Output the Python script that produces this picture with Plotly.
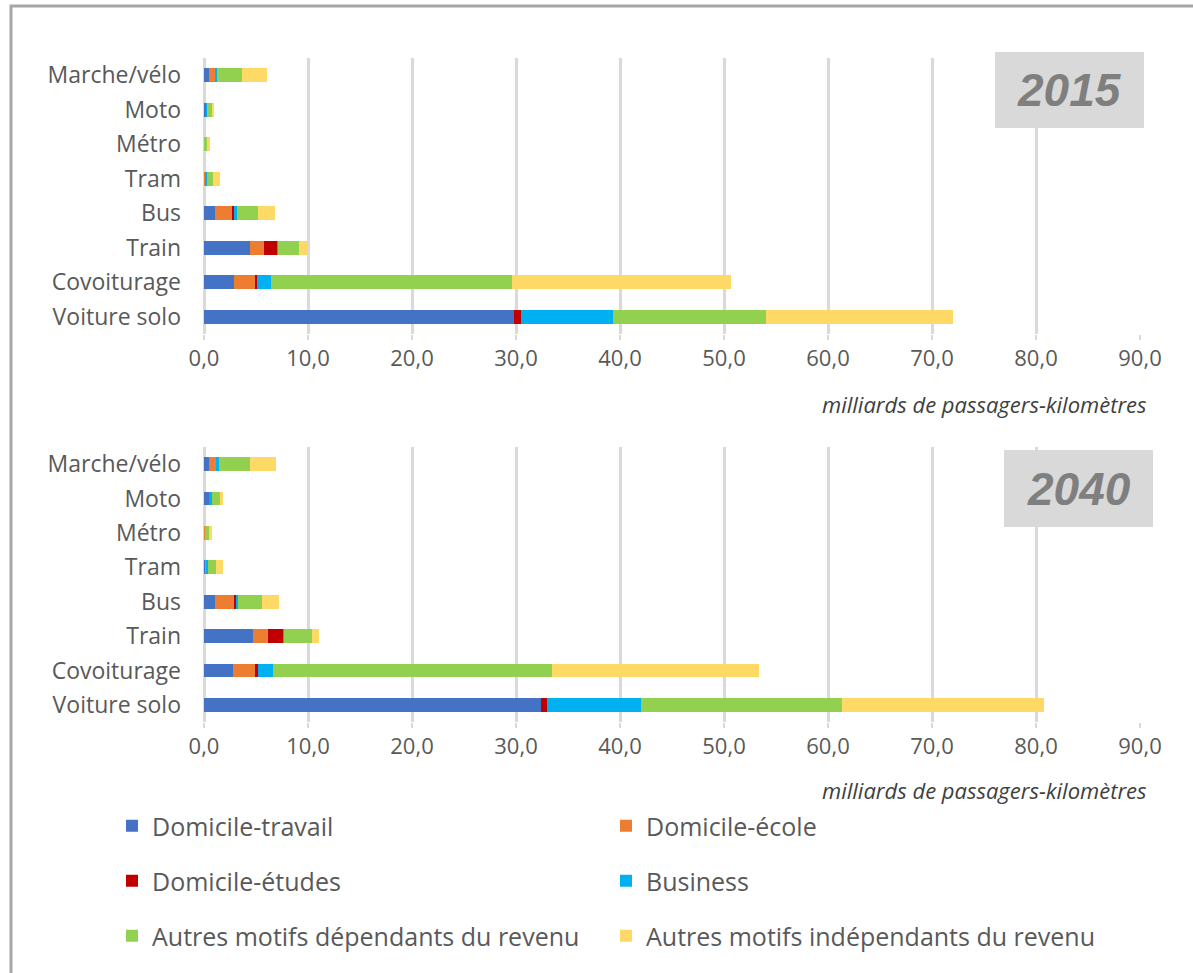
import plotly.graph_objects as go
from plotly.subplots import make_subplots

W, H = 1193, 973

# categories, bottom to top
modes = ["Voiture solo", "Covoiturage", "Train", "Bus", "Tram", "Métro", "Moto", "Marche/vélo"]

motifs = ["Domicile-travail", "Domicile-école", "Domicile-études", "Business",
          "Autres motifs dépendants du revenu", "Autres motifs indépendants du revenu"]
colors = ["#4472C4", "#ED7D31", "#C00000", "#00B0F0", "#92D050", "#FFD966"]

# 2015, milliards de passagers-km, one list per motif (order of modes)
travail_2015 = [29.8, 2.9, 4.39, 1.06, 0.05, 0.0, 0.2, 0.45]
ecole_2015 = [0.0, 2.0, 1.35, 1.66, 0.1, 0.0, 0.0, 0.65]
etudes_2015 = [0.7, 0.2, 1.36, 0.23, 0.0, 0.0, 0.0, 0.0]
business_2015 = [8.8, 1.3, 0.05, 0.19, 0.1, 0.0, 0.1, 0.15]
dep_2015 = [14.7, 23.2, 1.95, 2.02, 0.65, 0.3, 0.5, 2.45]
indep_2015 = [18.0, 21.1, 0.9, 1.64, 0.6, 0.3, 0.15, 2.4]

# 2040
travail_2040 = [32.4, 2.8, 4.71, 1.06, 0.12, 0.0, 0.48, 0.45]
ecole_2040 = [0.0, 2.1, 1.49, 1.79, 0.13, 0.13, 0.0, 0.74]
etudes_2040 = [0.6, 0.3, 1.4, 0.25, 0.0, 0.0, 0.0, 0.0]
business_2040 = [9.0, 1.4, 0.05, 0.2, 0.13, 0.0, 0.29, 0.21]
dep_2040 = [19.3, 26.9, 2.7, 2.3, 0.82, 0.32, 0.73, 3.0]
indep_2040 = [19.5, 19.9, 0.75, 1.64, 0.6, 0.29, 0.3, 2.57]

series_2015 = [travail_2015, ecole_2015, etudes_2015, business_2015, dep_2015, indep_2015]
series_2040 = [travail_2040, ecole_2040, etudes_2040, business_2040, dep_2040, indep_2040]

x_ticks = [0, 10, 20, 30, 40, 50, 60, 70, 80, 90]
unit_label = "milliards de passagers-kilomètres"


def fx(px):
    return px / W


def fy(py):
    return 1 - py / H


fig = make_subplots(rows=2, cols=1)

legends = ["legend", "legend", "legend2", "legend2", "legend3", "legend3"]
for i, (name, col) in enumerate(zip(motifs, colors)):
    fig.add_trace(go.Bar(y=modes, x=series_2015[i], orientation="h", name=name,
                         marker=dict(color=col, line=dict(width=0)),
                         legend=legends[i]), row=1, col=1)
    fig.add_trace(go.Bar(y=modes, x=series_2040[i], orientation="h", name=name,
                         marker=dict(color=col, line=dict(width=0)),
                         showlegend=False), row=2, col=1)

axis_font = dict(family="Open Sans, sans-serif", size=22, color="#595959")
xa = dict(range=[0, 90], tickvals=x_ticks, tickformat=".1f", showgrid=True,
          gridcolor="#D9D9D9", gridwidth=2.5, zeroline=True, zerolinecolor="#D9D9D9",
          zerolinewidth=2.5, ticks="outside", ticklen=5, tickwidth=2, tickcolor="#D9D9D9",
          tickfont=axis_font, domain=[fx(204), fx(1140)], fixedrange=True, automargin=False)
ya = dict(categoryorder="array", categoryarray=modes, tickfont=dict(
    family="Open Sans, sans-serif", size=23, color="#595959"), ticks="", showgrid=False,
    ticklabelstandoff=22, automargin=False, fixedrange=True)

fig.update_xaxes(**xa)
fig.update_yaxes(**ya)
fig.update_yaxes(domain=[fy(334), fy(58)], row=1, col=1)
fig.update_yaxes(domain=[fy(722), fy(447)], row=2, col=1)

leg_common = dict(orientation="h", xanchor="left", yanchor="middle", traceorder="normal",
                  entrywidth=449, entrywidthmode="pixels", bgcolor="rgba(0,0,0,0)",
                  font=dict(family="Open Sans, sans-serif", size=25, color="#595959"),
                  itemclick=False, itemdoubleclick=False)

fig.update_layout(
    width=W, height=H,
    margin=dict(l=0, r=0, t=0, b=0, autoexpand=False),
    plot_bgcolor="white", paper_bgcolor="white",
    barmode="stack", bargap=0.6,
    separators=", ",
    showlegend=True,
    legend=dict(x=fx(112), y=fy(826), **leg_common),
    legend2=dict(x=fx(112), y=fy(881), **leg_common),
    legend3=dict(x=fx(112), y=fy(936), **leg_common),
)

# frame
fig.add_shape(type="rect", xref="paper", yref="paper", x0=fx(11), x1=1.05,
              y0=-0.05, y1=fy(6), line=dict(color="#A6A6A6", width=3), layer="below")

# year boxes
for year, x0, x1, y0, y1 in [("2015", 995, 1144, 52, 128), ("2040", 1004, 1153, 450, 527)]:
    fig.add_shape(type="rect", xref="paper", yref="paper", x0=fx(x0), x1=fx(x1),
                  y0=fy(y1), y1=fy(y0), fillcolor="#D9D9D9", line=dict(width=0), layer="above")
    fig.add_annotation(text=f"<b><i>{year}</i></b>", xref="paper", yref="paper",
                       x=fx((x0 + x1) / 2), y=fy((y0 + y1) / 2), showarrow=False,
                       font=dict(family="Liberation Sans, Arial, sans-serif", size=46,
                                 color="#7F7F7F"), xanchor="center", yanchor="middle")

# axis unit labels
for py in [404, 790]:
    fig.add_annotation(text=f"<i>{unit_label}</i>", xref="paper", yref="paper",
                       x=fx(1149), y=fy(py), showarrow=False, xanchor="right", yanchor="middle",
                       font=dict(family="Open Sans, sans-serif", size=22, color="#404040"))

fig.write_html("out.html", config={"displayModeBar": False},
               post_script="document.body.style.margin='0';")
